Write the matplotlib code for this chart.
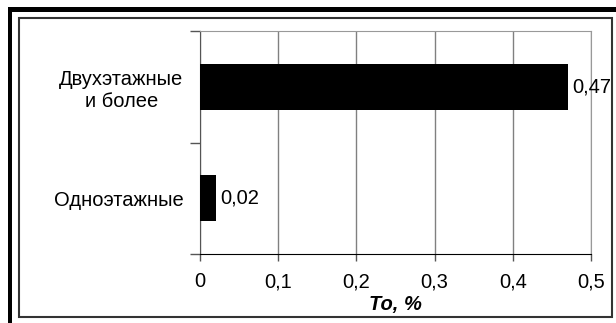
import matplotlib
matplotlib.use("Agg")
import matplotlib.pyplot as plt
from matplotlib.patches import Rectangle
from matplotlib.ticker import FixedLocator, NullFormatter

# данные
categories = ["Одноэтажные", "Двухэтажные\nи более"]
values = [0.02, 0.47]
value_labels = ["0,02", "0,47"]
x_ticks = [0, 0.1, 0.2, 0.3, 0.4, 0.5]
x_tick_labels = ["0", "0,1", "0,2", "0,3", "0,4", "0,5"]
x_label = "To, %"

W, H = 616, 323
plt.rcParams["font.family"] = ["Liberation Sans", "DejaVu Sans"]
plt.rcParams["font.size"] = 14.5

fig = plt.figure(figsize=(W / 100, H / 100), dpi=100)
fig.patch.set_facecolor("white")

# рамка: толстая черная сверху и слева, тонкая внутри
def px_rect(x0, y0, x1, y1, **kw):
    return Rectangle((x0 / W, 1 - y1 / H), (x1 - x0) / W, (y1 - y0) / H,
                     transform=fig.transFigure, **kw)

fig.patches.append(px_rect(8, 7, W + 5, 12, facecolor="black", edgecolor="none"))
fig.patches.append(px_rect(8, 7, 12, H + 5, facecolor="black", edgecolor="none"))
fig.patches.append(px_rect(19.5, 17.5, 612, 316.5, facecolor="none",
                           edgecolor="#333333", linewidth=1.5))

ax = fig.add_axes([200 / W, 1 - 254 / H, (591 - 200) / W, (254 - 31) / H])
ypos = list(range(len(categories)))
ax.barh(ypos, values, height=0.41, color="black", zorder=3)

for y, v, lab in zip(ypos, values, value_labels):
    ax.text(v + 0.006, y, lab, va="center", ha="left", zorder=4)

ax.set_xlim(0, 0.5)
ax.set_ylim(-0.5, 1.5)
ax.set_xticks(x_ticks)
ax.set_xticklabels(x_tick_labels)
ax.tick_params(axis="x", direction="out", length=5, width=1, color="#555555", pad=8)

# деления по границам категорий, подписи по центрам
ax.yaxis.set_major_locator(FixedLocator([-0.5, 0.5, 1.5]))
ax.yaxis.set_major_formatter(NullFormatter())
ax.yaxis.set_minor_locator(FixedLocator(ypos))
ax.set_yticklabels(categories, minor=True, multialignment="center", linespacing=1.2)
ax.tick_params(axis="y", which="major", direction="out", length=7, width=1, color="#555555")
ax.tick_params(axis="y", which="minor", length=0, pad=12)

ax.grid(axis="x", color="#808080", linewidth=1, zorder=0)
ax.spines["left"].set_color("#555555")
ax.spines["bottom"].set_color("black")
ax.spines["top"].set_color("#999999")
ax.spines["right"].set_color("#999999")

ax.set_xlabel(x_label, fontweight="bold", fontstyle="italic", labelpad=3)

fig.savefig("out.png", dpi=100)
